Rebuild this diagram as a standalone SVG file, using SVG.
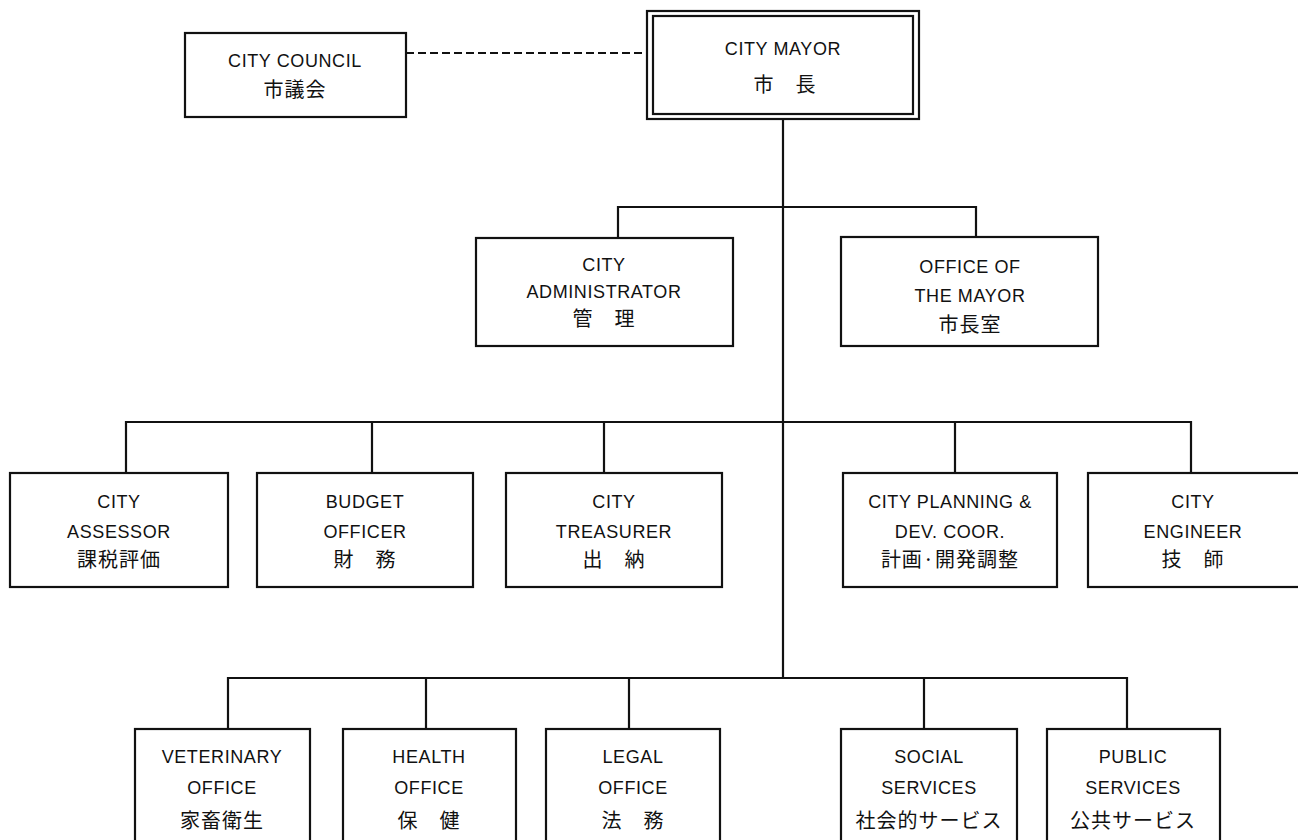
<svg xmlns="http://www.w3.org/2000/svg" width="1298" height="840" viewBox="0 0 1298 840">
<style>
.box{fill:#fff;stroke:#111;stroke-width:2.2}
.ln{fill:none;stroke:#111;stroke-width:2.2}
.dash{fill:none;stroke:#111;stroke-width:2;stroke-dasharray:8 4}
.en{font-family:"Liberation Sans",Arial,sans-serif;font-size:18px;letter-spacing:0.6px;fill:#111;text-anchor:middle}
.jp{font-family:"Noto Sans CJK JP","Noto Sans CJK SC",sans-serif;font-size:20px;letter-spacing:1px;fill:#111;text-anchor:middle}
</style>
<rect width="1298" height="840" fill="#fff"/>
<g id="connectors">
<path class="dash" d="M406 53 H647"/>
<path class="ln" d="M783 119 V678"/>
<path class="ln" d="M618 238 V207 H976 V237"/>
<path class="ln" d="M126 473 V422 H1191 V473 M372 422 V473 M604 422 V473 M955 422 V473"/>
<path class="ln" d="M228 729 V678 H1127 V729 M426 678 V729 M629 678 V729 M924 678 V729"/>
</g>
<g id="council">
<rect class="box" x="185" y="33" width="221" height="84"/>
<text class="en" x="295" y="67">CITY COUNCIL</text>
<text class="jp" x="295" y="97">市議会</text>
</g>
<g id="mayor">
<rect class="box" x="647" y="11" width="272" height="108"/>
<rect class="box" x="653" y="16" width="260" height="98"/>
<text class="en" x="783" y="55">CITY MAYOR</text>
<text class="jp" x="785" y="92">市　長</text>
</g>
<g id="administrator">
<rect class="box" x="476" y="238" width="257" height="108"/>
<text class="en" x="604" y="271">CITY</text>
<text class="en" x="604" y="298">ADMINISTRATOR</text>
<text class="jp" x="604" y="326">管　理</text>
</g>
<g id="office-mayor">
<rect class="box" x="841" y="237" width="257" height="109"/>
<text class="en" x="970" y="273">OFFICE OF</text>
<text class="en" x="970" y="302">THE MAYOR</text>
<text class="jp" x="970" y="332">市長室</text>
</g>
<g id="assessor">
<rect class="box" x="10" y="473" width="218" height="114"/>
<text class="en" x="119" y="508">CITY</text>
<text class="en" x="119" y="538">ASSESSOR</text>
<text class="jp" x="119" y="567">課税評価</text>
</g>
<g id="budget">
<rect class="box" x="257" y="473" width="216" height="114"/>
<text class="en" x="365" y="508">BUDGET</text>
<text class="en" x="365" y="538">OFFICER</text>
<text class="jp" x="365" y="567">財　務</text>
</g>
<g id="treasurer">
<rect class="box" x="506" y="473" width="216" height="114"/>
<text class="en" x="614" y="508">CITY</text>
<text class="en" x="614" y="538">TREASURER</text>
<text class="jp" x="614" y="567">出　納</text>
</g>
<g id="planning">
<rect class="box" x="843" y="473" width="214" height="114"/>
<text class="en" x="950" y="508">CITY PLANNING &amp;</text>
<text class="en" x="950" y="538">DEV. COOR.</text>
<text class="jp" x="950" y="567">計画·開発調整</text>
</g>
<g id="engineer">
<rect class="box" x="1088" y="473" width="216" height="114"/>
<text class="en" x="1193" y="508">CITY</text>
<text class="en" x="1193" y="538">ENGINEER</text>
<text class="jp" x="1193" y="567">技　師</text>
</g>
<g id="veterinary">
<rect class="box" x="135" y="729" width="175" height="130"/>
<text class="en" x="222" y="763">VETERINARY</text>
<text class="en" x="222" y="794">OFFICE</text>
<text class="jp" x="222" y="828">家畜衛生</text>
</g>
<g id="health">
<rect class="box" x="343" y="729" width="173" height="130"/>
<text class="en" x="429" y="763">HEALTH</text>
<text class="en" x="429" y="794">OFFICE</text>
<text class="jp" x="429" y="828">保　健</text>
</g>
<g id="legal">
<rect class="box" x="546" y="729" width="174" height="130"/>
<text class="en" x="633" y="763">LEGAL</text>
<text class="en" x="633" y="794">OFFICE</text>
<text class="jp" x="633" y="828">法　務</text>
</g>
<g id="social">
<rect class="box" x="841" y="729" width="176" height="130"/>
<text class="en" x="929" y="763">SOCIAL</text>
<text class="en" x="929" y="794">SERVICES</text>
<text class="jp" x="929" y="828">社会的サービス</text>
</g>
<g id="public">
<rect class="box" x="1047" y="729" width="173" height="130"/>
<text class="en" x="1133" y="763">PUBLIC</text>
<text class="en" x="1133" y="794">SERVICES</text>
<text class="jp" x="1133" y="828">公共サービス</text>
</g>
</svg>
